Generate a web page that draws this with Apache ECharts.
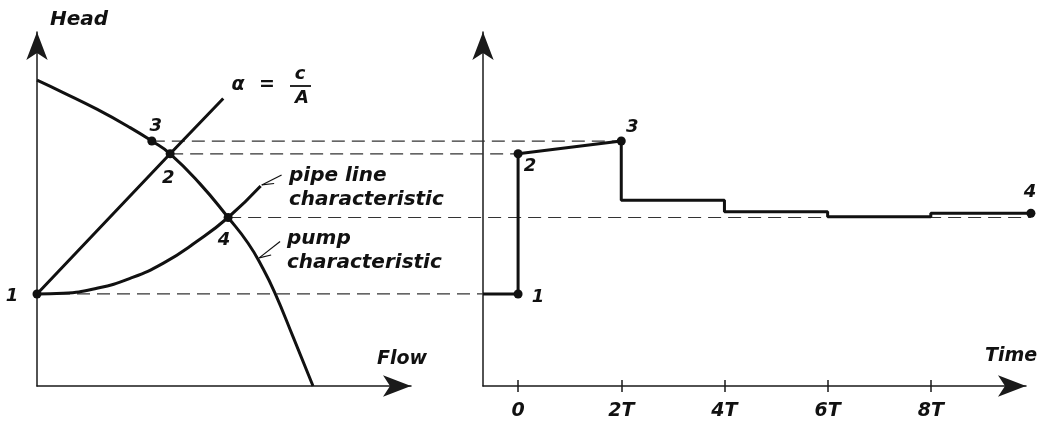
<!DOCTYPE html>
<html><head><meta charset="utf-8">
<script src="https://cdn.jsdelivr.net/npm/echarts@6/dist/echarts.min.js"></script>
<style>html,body{margin:0;padding:0;background:#fff}#c{width:1043px;height:421px}</style>
</head><body><div id="c"></div>
<script>
// ---------- data ----------
// operating points on the Head–Flow diagram
const pointNames = ['1', '2', '3', '4'];
const pointFlow = [0, 35.6, 30.7, 51.1];
const pointHead = [26.0, 65.6, 69.2, 47.6];

// pump characteristic
const pumpFlow = [0, 7.0, 16.0, 24.9, 30.7, 35.6, 43.6, 51.1, 56.4, 60.2, 63.6, 68.5, 73.8];
const pumpHead = [86.4, 82.9, 78.2, 73.0, 69.2, 65.6, 57.1, 47.6, 40.4, 33.6, 26.3, 13.8, 0];

// pipe line characteristic
const pipeFlow = [0, 7.0, 16.0, 24.9, 33.8, 42.7, 51.1, 59.8];
const pipeHead = [26.0, 26.2, 27.6, 30.4, 34.7, 40.8, 47.6, 56.5];

// wave line alpha = c/A
const alphaFlow = [0, 35.6, 49.8];
const alphaHead = [26.0, 65.6, 81.2];

// leader lines [flow, head]
const pipeLeader = [[60.1, 56.8], [65.4, 59.6]];
const pipeLeaderBarb = [[60.1, 56.8], [63.4, 57.2]];
const pumpLeader = [[59.4, 36.2], [65.0, 40.8]];
const pumpLeaderBarb = [[59.4, 36.2], [62.6, 37.0]];

// Head–Time history (T units)
const timeT = [-0.68, 0, 0, 2, 2, 4, 4, 6, 6, 8, 8, 9.94];
const timeHead = [26.0, 26.0, 65.6, 69.2, 52.5, 52.5, 49.2, 49.2, 47.8, 47.8, 48.8, 48.8];
const timePointNames = ['1', '2', '3', '4'];
const timePointT = [0, 0, 2, 9.94];
const timePointHead = [26.0, 65.6, 69.2, 48.8];

// dashed projections: left point index -> time on right panel
const linkLeftIndex = [0, 1, 2, 3];
const linkRightT = [0, 0, 2, 9.94];

// time axis ticks
const tickValues = [0, 2, 4, 6, 8];
const tickLabels = ['0', '2T', '4T', '6T', '8T'];

// ---------- styling ----------
const INK = '#111';
const FONT = '"DejaVu Sans"';
const fontStr = (s) => 'italic bold ' + s + 'px ' + FONT;
const leftLabelOffsets = [[-25, 2], [-2, 25], [4, -15], [-4, 23]];
const rightLabelOffsets = [[20, 3], [12, 13], [11, -14], [-1, -21]];

const zip = (a, b) => a.map((v, i) => [v, b[i]]);

function baseAxis(extra) {
  return Object.assign({
    type: 'value',
    axisLine: { show: true, onZero: false, symbol: ['none', 'arrow'], symbolSize: [16, 28],
      lineStyle: { color: '#1a1a1a', width: 1.5 } },
    axisTick: { show: false },
    axisLabel: { show: false },
    splitLine: { show: false }
  }, extra);
}

const labelStyle = {
  show: true, position: 'inside', color: INK, fontFamily: FONT,
  fontStyle: 'italic', fontWeight: 'bold', fontSize: 18, opacity: 1
};

const chart = echarts.init(document.getElementById('c'), null, { renderer: 'canvas' });

const option = {
  animation: false,
  backgroundColor: '#fff',
  grid: [
    { left: 37, top: 32, width: 374, height: 354 },
    { left: 483, top: 32, width: 543, height: 354 }
  ],
  xAxis: [
    baseAxis({ gridIndex: 0, min: 0, max: 100 }),
    baseAxis({ gridIndex: 1, min: -0.68, max: 9.845, position: 'bottom',
      axisTick: { show: true, customValues: tickValues, length: 6, lineStyle: { color: '#1a1a1a', width: 1.5 } },
      axisLabel: { show: true, customValues: tickValues, margin: 16, color: INK,
        fontFamily: FONT, fontStyle: 'italic', fontWeight: 'bold', fontSize: 19,
        formatter: (v) => tickLabels[tickValues.indexOf(v)] } }),
    { type: 'value', gridIndex: 1, min: -0.68, max: 9.845, position: 'bottom',
      axisLine: { show: false, onZero: false },
      axisTick: { show: true, inside: true, customValues: tickValues, length: 6, lineStyle: { color: '#1a1a1a', width: 1.5 } },
      axisLabel: { show: false }, splitLine: { show: false } }
  ],
  yAxis: [
    baseAxis({ gridIndex: 0, min: 0, max: 100 }),
    baseAxis({ gridIndex: 1, min: 0, max: 100 })
  ],
  series: [
    { type: 'line', xAxisIndex: 0, yAxisIndex: 0, data: zip(pumpFlow, pumpHead), smooth: 0.5,
      symbol: 'none', lineStyle: { color: INK, width: 3 }, z: 3 },
    { type: 'line', xAxisIndex: 0, yAxisIndex: 0, data: zip(pipeFlow, pipeHead), smooth: 0.5,
      symbol: 'none', lineStyle: { color: INK, width: 3 }, z: 3 },
    { type: 'line', xAxisIndex: 0, yAxisIndex: 0, data: zip(alphaFlow, alphaHead),
      symbol: 'none', lineStyle: { color: INK, width: 3 }, z: 3 },
    ...[pipeLeader, pipeLeaderBarb, pumpLeader, pumpLeaderBarb].map(seg => ({
      type: 'line', xAxisIndex: 0, yAxisIndex: 0, data: seg, symbol: 'none', clip: false,
      lineStyle: { color: INK, width: 1.2 }, z: 3 })),
    { type: 'scatter', xAxisIndex: 0, yAxisIndex: 0, symbolSize: 9, itemStyle: { color: INK, opacity: 1 }, z: 5,
      data: pointNames.map((n, i) => ({ name: n, value: [pointFlow[i], pointHead[i]],
        label: Object.assign({}, labelStyle, { offset: leftLabelOffsets[i], formatter: '{b}' }) })) },
    { type: 'line', xAxisIndex: 1, yAxisIndex: 1, data: zip(timeT, timeHead), clip: false,
      symbol: 'none', lineStyle: { color: INK, width: 3 }, z: 3 },
    { type: 'scatter', xAxisIndex: 1, yAxisIndex: 1, symbolSize: 9, itemStyle: { color: INK, opacity: 1 }, z: 5, clip: false,
      data: timePointNames.map((n, i) => ({ name: n, value: [timePointT[i], timePointHead[i]],
        label: Object.assign({}, labelStyle, { offset: rightLabelOffsets[i], formatter: '{b}' }) })) }
  ]
};
chart.setOption(option);

// ---------- annotations ----------
const txt = (text, x, y, size, align) => ({
  type: 'text', x: x, y: y, z: 10,
  style: { text: text, font: fontStr(size), fill: INK, align: align || 'left', verticalAlign: 'middle' }
});

const graphics = [
  txt('Head', 50, 20, 20),
  txt('Flow', 377, 359, 19),
  txt('Time', 985, 356, 19),
  txt('pipe line', 289, 176, 20),
  txt('characteristic', 289, 200, 20),
  txt('pump', 287, 239, 20),
  txt('characteristic', 287, 263, 20),
  txt('α', 238, 85, 19, 'center'),
  txt('=', 267, 85, 19, 'center'),
  txt('c', 300, 74, 18, 'center'),
  txt('A', 302, 98, 18, 'center'),
  { type: 'line', z: 10, shape: { x1: 290, y1: 86, x2: 311, y2: 86 }, style: { stroke: INK, lineWidth: 1.8 } }
];

linkLeftIndex.forEach((li, k) => {
  const p1 = chart.convertToPixel({ xAxisIndex: 0, yAxisIndex: 0 }, [pointFlow[li], pointHead[li]]);
  const p2 = chart.convertToPixel({ xAxisIndex: 1, yAxisIndex: 1 }, [linkRightT[k], pointHead[li]]);
  graphics.push({ type: 'line', z: 1,
    shape: { x1: p1[0], y1: p1[1], x2: p2[0], y2: p2[1] },
    style: { stroke: '#333', lineWidth: 1.2, lineDash: [13, 7] } });
});

chart.setOption({ graphic: graphics });
</script>
</body></html>
